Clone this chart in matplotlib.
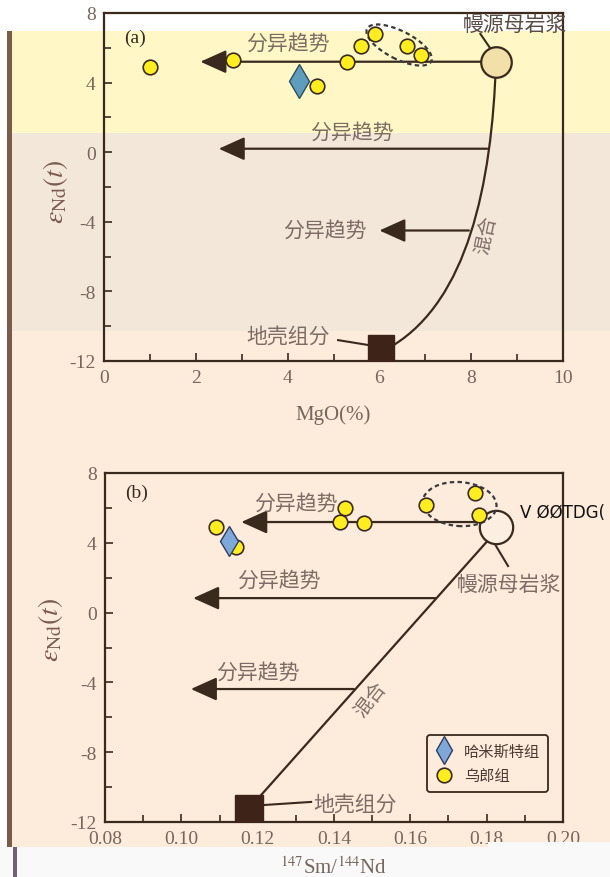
"""
Nd isotope vs MgO and 147Sm/144Nd diagrams (two stacked panels),
redrawn from a scanned figure.
"""
import numpy as np
import matplotlib
matplotlib.use('Agg')
import matplotlib.pyplot as plt
import matplotlib.transforms as mtransforms
from matplotlib.patches import Rectangle, Ellipse, PathPatch
from matplotlib.path import Path
from matplotlib.lines import Line2D
from matplotlib.ticker import MultipleLocator, FormatStrFormatter

# === colours ===
YELLOW_BG = '#FFF8C6'
BEIGE_BG  = '#F3E7DA'
PEACH_BG  = '#FDEBDC'
EDGE      = '#3A2A1E'
TICK_TXT  = '#76665C'
CN_TXT    = '#7C6C64'
DOT       = '#FFEE1C'
DIAMOND_A = '#5E9DBD'
DIAMOND_B = '#7FA8DA'

plt.rcParams.update({
    'font.family': ['Liberation Serif', 'Noto Sans CJK SC', 'DejaVu Sans'],
    'mathtext.fontset': 'stix',
    'axes.unicode_minus': False,
    'axes.linewidth': 1.6,
    'axes.edgecolor': EDGE,
})
CN = ['Noto Sans CJK SC', 'DejaVu Sans']

# === data: panel (a) MgO ===
wl_mgo = [1.0, 2.8, 5.3, 5.6, 5.9, 6.6, 6.9, 4.65]
wl_end_a = [4.9, 5.3, 5.2, 6.1, 6.8, 6.1, 5.6, 3.8]
hm_mgo = [4.25]
hm_end_a = [4.1]
mantle_a = (8.54, 5.18)
crust_a = (6.04, -11.25)
# mixing curve (cubic Bezier: start, two control points, end)
mix_a_x = [8.54, 8.45, 7.9, 6.3]
mix_a_y = [5.18, -2.0, -8.5, -11.1]
trend_a = [(5.2, 8.54, 2.1), (0.2, 8.35, 2.5), (-4.5, 7.95, 6.0)]   # (y, from x, to x)
trend_lbl_a = [(4.0, 6.3), (5.4, 1.15), (4.8, -4.45)]

# === data: panel (b) Sm/Nd ===
wl_smnd = [0.109, 0.1143, 0.1416, 0.143, 0.1479, 0.164, 0.177, 0.178]
wl_end_b = [4.92, 3.75, 5.2, 6.0, 5.15, 6.15, 6.85, 5.6]
hm_smnd = [0.1125]
hm_end_b = [4.1]
mantle_b = (0.1824, 4.9)
crust_b = (0.1176, -11.25)
mix_b_x = [0.181, 0.1195]
mix_b_y = [4.3, -10.8]
trend_b = [(5.19, 0.1795, 0.1157), (0.83, 0.1665, 0.1031), (-4.38, 0.1452, 0.1025)]
trend_lbl_b = [(0.130, 6.3), (0.1256, 1.9), (0.120, -3.4)]

fig = plt.figure(figsize=(6.10, 8.78), dpi=100, facecolor='white')
W, H = 610.0, 878.0


def px_rect(x0, y0, x1, y1, color, z=-10):
    fig.patches.append(Rectangle((x0 / W, 1 - y1 / H), (x1 - x0) / W, (y1 - y0) / H,
                                 transform=fig.transFigure, facecolor=color,
                                 edgecolor='none', zorder=z))


# scanned page background bands
px_rect(8, 32, 610, 134, YELLOW_BG)
px_rect(8, 134, 610, 332, BEIGE_BG)
px_rect(8, 332, 610, 848, PEACH_BG)
px_rect(0, 848, 610, 878, '#F9F9F9')
px_rect(7, 32, 12, 848, '#7B5B4A')
px_rect(13, 848, 17, 878, '#6E6470')

ax_a = fig.add_axes([104 / W, 1 - 362 / H, 459 / W, 348 / H])
ax_b = fig.add_axes([105 / W, 1 - 823 / H, 458 / W, 349 / H])


def style(ax, xmaj, xmin):
    ax.set_facecolor('none')
    ax.set_ylim(-12, 8)
    ax.yaxis.set_major_locator(MultipleLocator(4))
    ax.yaxis.set_minor_locator(MultipleLocator(2))
    ax.xaxis.set_major_locator(MultipleLocator(xmaj))
    ax.xaxis.set_minor_locator(MultipleLocator(xmin))
    ax.tick_params(which='both', direction='in', color=EDGE, width=1.2,
                   labelsize=14, labelcolor=TICK_TXT, pad=6)
    ax.tick_params(which='major', length=6)
    ax.tick_params(which='minor', length=5)
    ax.set_ylabel(r'$\varepsilon_{\mathrm{Nd}}(t)$', fontsize=20, color='#7A5A50')


def ellipse(ax, cx, cy, a, b, ang):
    tr = fig.dpi_scale_trans + mtransforms.ScaledTranslation(cx, cy, ax.transData)
    ax.add_patch(Ellipse((0, 0), 2 * a / 100, 2 * b / 100, angle=ang, transform=tr,
                         fill=False, ls=(0, (2, 1.5)), lw=1.6, color='#3A3A3A', zorder=4))


def arrows(ax, trends, labels):
    for (y, x0, x1), (lx, ly) in zip(trends, labels):
        ax.annotate('', xy=(x1, y), xytext=(x0, y),
                    arrowprops=dict(arrowstyle='-|>,head_length=0.8,head_width=0.36',
                                    mutation_scale=20, lw=1.6, color=EDGE,
                                    shrinkA=0, shrinkB=0), zorder=3)
        ax.text(lx, ly, '分异趋势', family=CN, fontsize=15, color=CN_TXT,
                ha='center', va='center')


# ---------- panel (a) ----------
style(ax_a, 2, 1)
ax_a.set_xlim(0, 10)
ax_a.set_xlabel('MgO(%)', fontsize=15, color=TICK_TXT)
ax_a.xaxis.set_label_coords(0.5, -0.125)
ax_a.yaxis.set_label_coords(-0.075, 0.49)

mix_path = Path(np.column_stack([mix_a_x, mix_a_y]),
                [Path.MOVETO, Path.CURVE4, Path.CURVE4, Path.CURVE4])
ax_a.add_patch(PathPatch(mix_path, fill=False, edgecolor=EDGE, lw=1.6, zorder=2))
arrows(ax_a, trend_a, trend_lbl_a)
ax_a.plot(wl_mgo, wl_end_a, 'o', ms=10.5, mfc=DOT, mec=EDGE, mew=1.2, zorder=5)
ax_a.plot(hm_mgo, hm_end_a, 'd', ms=17, mfc=DIAMOND_A, mec='#2E4E60', mew=1.0, zorder=5)
ax_a.plot(*mantle_a, 'o', ms=22, mfc='#F1E0A8', mec=EDGE, mew=1.6, zorder=5)
ax_a.plot(*crust_a, 's', ms=19, mfc='#3E2418', mec='#3E2418', zorder=5)
ellipse(ax_a, 6.43, 6.16, 36, 14, -27)

ax_a.plot([8.2, 8.42], [6.8, 5.95], color=EDGE, lw=1.5)
ax_a.plot([5.1, 5.8], [-10.8, -11.1], color=EDGE, lw=1.5)
ax_a.text(8.95, 7.35, '幔源母岩浆', family=CN, fontsize=15, color='#5A4C46',
          ha='center', va='center')
ax_a.text(4.0, -10.55, '地壳组分', family=CN, fontsize=15, color=CN_TXT,
          ha='center', va='center')
ax_a.text(8.33, -4.7, '混合', family=CN, fontsize=14, color=CN_TXT,
          ha='center', va='center', rotation=78)
ax_a.text(0.67, 6.6, '(a)', fontsize=14, color='#3A2A22', ha='center', va='center')

# ---------- panel (b) ----------
style(ax_b, 0.02, 0.01)
ax_b.set_xlim(0.08, 0.20)
ax_b.xaxis.set_major_formatter(FormatStrFormatter('%.2f'))
ax_b.set_xlabel(r'$^{147}$Sm/$^{144}$Nd', fontsize=15, color=TICK_TXT)
ax_b.xaxis.set_label_coords(0.5, -0.098)
ax_b.yaxis.set_label_coords(-0.087, 0.553)

ax_b.plot(mix_b_x, mix_b_y, color=EDGE, lw=1.6, zorder=2)
arrows(ax_b, trend_b, trend_lbl_b)
ax_b.plot(wl_smnd, wl_end_b, 'o', ms=10.5, mfc=DOT, mec=EDGE, mew=1.2, zorder=5)
ax_b.plot(hm_smnd, hm_end_b, 'd', ms=15, mfc=DIAMOND_B, mec='#2E3E60', mew=1.0, zorder=6)
ax_b.plot(*mantle_b, 'o', ms=24, mfc='#FDEEE2', mec=EDGE, mew=1.6, zorder=4)
ax_b.plot(*crust_b, 's', ms=20, mfc='#3E2418', mec='#3E2418', zorder=5)
ellipse(ax_b, 0.1729, 6.22, 37, 22, -4)

ax_b.plot([0.1814, 0.1856], [4.2, 2.67], color=EDGE, lw=1.5, zorder=3)
ax_b.plot([0.1214, 0.1340], [-11.03, -10.85], color=EDGE, lw=1.5)
ax_b.text(0.1858, 1.64, '幔源母岩浆', family=CN, fontsize=15, color=CN_TXT,
          ha='center', va='center')
ax_b.text(0.1455, -10.95, '地壳组分', family=CN, fontsize=15, color=CN_TXT,
          ha='center', va='center')
ax_b.text(0.1494, -4.95, '混合', family=CN, fontsize=14, color=CN_TXT,
          ha='center', va='center', rotation=52)
ax_b.text(0.0884, 6.9, '(b)', fontsize=14, color='#3A2A22', ha='center', va='center')

# garbled glyphs left over from the scan
fig.text(520 / W, 1 - 513 / H, 'V ØØTDG(', family='DejaVu Sans', fontsize=12,
         color='#111111', ha='left', va='center')

handles = [Line2D([], [], ls='none', marker='d', ms=14, mfc=DIAMOND_B, mec='#2E3E60'),
           Line2D([], [], ls='none', marker='o', ms=10.5, mfc=DOT, mec=EDGE, mew=1.2)]
leg = ax_b.legend(handles, ['哈米斯特组', '乌郎组'], loc='upper right',
                  bbox_to_anchor=(0.967, 0.25), borderaxespad=0,
                  prop={'family': CN, 'size': 11},
                  frameon=True, fancybox=True, framealpha=1, facecolor=PEACH_BG,
                  edgecolor=EDGE, handletextpad=0.7, borderpad=0.5, labelspacing=0.5,
                  handlelength=1.2)
leg.get_frame().set_linewidth(1.3)
for t in leg.get_texts():
    t.set_color('#4A3A32')

# white scan strip clipping the last tick labels
px_rect(488, 843, 610, 878, '#F9F9F9', z=5)

plt.savefig('out.png', dpi=100, facecolor='white')
plt.close()
